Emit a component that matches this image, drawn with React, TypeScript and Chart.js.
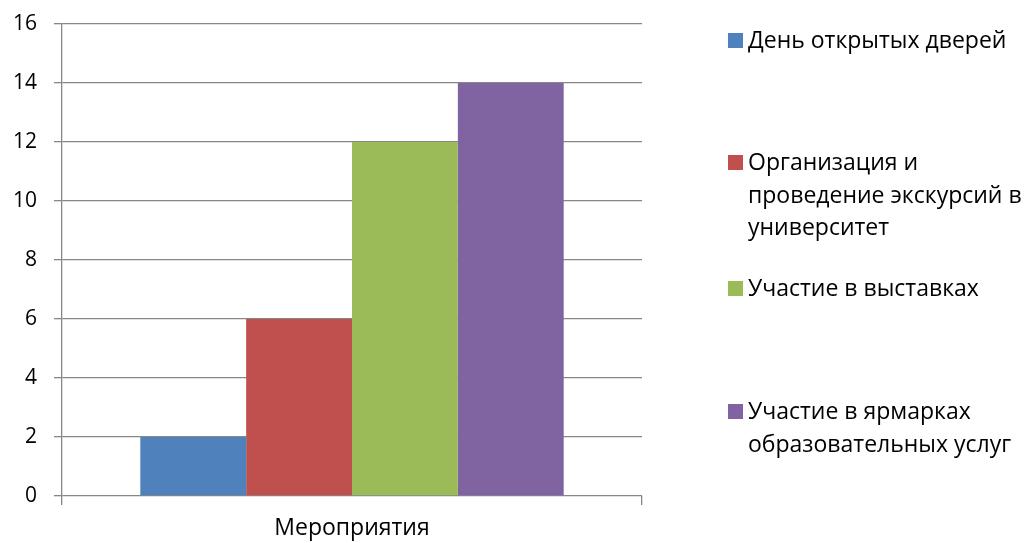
import React, { useEffect, useRef } from "react";
import { Chart, registerables } from "chart.js";

Chart.register(...registerables);

const categories = ["Мероприятия"];
const seriesNames = [
  "День открытых дверей",
  "Организация и проведение экскурсий в университет",
  "Участие в выставках",
  "Участие в ярмарках образовательных услуг",
];
const seriesValues = [2, 6, 12, 14];
const seriesColors = ["#4F81BD", "#C0504D", "#9BBB59", "#8064A2"];
const legendLines = [
  ["День открытых дверей"],
  ["Организация и", "проведение экскурсий в", "университет"],
  ["Участие в выставках"],
  ["Участие в ярмарках", "образовательных услуг"],
];
const legendBaselines = [48, 170, 296, 419];

const FONT = "'Open Sans', sans-serif";
const GRID = "#878787";

const legendPlugin = {
  id: "customLegend",
  afterDraw(chart: any) {
    const ctx = chart.ctx;
    ctx.save();
    ctx.font = `23px ${FONT}`;
    ctx.textBaseline = "alphabetic";
    ctx.textAlign = "left";
    chart.data.datasets.forEach((ds: any, i: number) => {
      const b = legendBaselines[i];
      ctx.fillStyle = ds.backgroundColor;
      ctx.fillRect(728, b - 15, 15, 15);
      ctx.fillStyle = "#000";
      legendLines[i].forEach((line, j) => {
        ctx.fillText(line, 748, b + j * 32.5);
      });
    });
    ctx.restore();
  },
};

export default function App() {
  const ref = useRef<HTMLCanvasElement>(null);
  useEffect(() => {
    if (!ref.current) return;
    const chart = new Chart(ref.current, {
      type: "bar",
      data: {
        labels: categories,
        datasets: seriesNames.map((name, i) => ({
          label: name,
          data: [seriesValues[i]],
          backgroundColor: seriesColors[i],
          borderWidth: 0,
          categoryPercentage: 0.73,
          barPercentage: 1,
        })),
      },
      options: {
        animation: false,
        responsive: true,
        maintainAspectRatio: false,
        layout: { padding: { top: 24, right: 385, left: 0, bottom: 0 } },
        plugins: { legend: { display: false }, tooltip: { enabled: false } },
        scales: {
          x: {
            afterFit: (s: any) => {
              s.height = 47;
            },
            grid: {
              display: true,
              drawOnChartArea: false,
              drawTicks: true,
              tickLength: 9,
              color: GRID,
              lineWidth: 1.3,
            },
            border: { display: false },
            ticks: { color: "#000", font: { family: FONT, size: 23 }, padding: 10 },
          },
          y: {
            min: 0,
            max: 16,
            afterFit: (s: any) => {
              s.width = 62;
              s.paddingTop = 0;
              s.paddingBottom = 0;
            },
            ticks: { stepSize: 2, color: "#000", font: { family: FONT, size: 21 }, padding: 17 },
            grid: { color: GRID, lineWidth: 1.3, tickLength: 8 },
            border: { display: true, color: GRID, width: 1.3 },
          },
        },
      },
      plugins: [legendPlugin],
    });
    return () => chart.destroy();
  }, []);
  return (
    <div style={{ position: "fixed", left: 0, top: 0, width: 1027, height: 543, background: "#fff" }}>
      <canvas ref={ref} />
    </div>
  );
}
